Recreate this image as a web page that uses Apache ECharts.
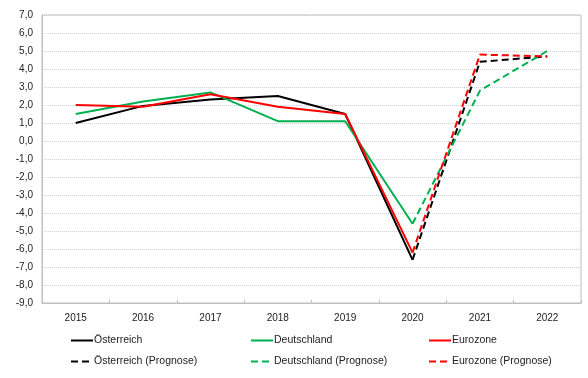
<!DOCTYPE html>
<html><head><meta charset="utf-8">
<script src="https://cdn.jsdelivr.net/npm/echarts@6/dist/echarts.min.js"></script>
<style>html,body{margin:0;padding:0;background:#fff}#c{width:588px;height:378px}</style>
</head><body><div id="c"></div>
<script>
const years = ['2015','2016','2017','2018','2019','2020','2021','2022'];
const oesterreich = [1.0, 1.95, 2.3, 2.5, 1.5, -6.6, null, null];
const deutschland = [1.5, 2.2, 2.7, 1.1, 1.1, -4.6, null, null];
const eurozone = [2.0, 1.9, 2.6, 1.9, 1.5, -6.2, null, null];
const oesterreichP = [null, null, null, null, null, -6.6, 4.4, 4.7];
const deutschlandP = [null, null, null, null, null, -4.6, 2.8, 5.0];
const eurozoneP = [null, null, null, null, null, -6.2, 4.8, 4.7];

const BLACK = '#000000', GREEN = '#00b050', RED = '#ff0000';
const dash = [7, 4];
function s(name, data, color, dashed) {
  return {
    name, type: 'line', data, symbol: 'none', connectNulls: false,
    lineStyle: { color, width: 2, type: dashed ? dash : 'solid' },
    itemStyle: { color }, emphasis: { disabled: true }, animation: false
  };
}
const font = 'Liberation Sans';
const legendBase = {
  orient: 'vertical', top: 330, itemWidth: 22, itemHeight: 10, itemGap: 10,
  itemStyle: { opacity: 0 },
  textStyle: { fontFamily: font, fontSize: 10.5, color: '#222', padding: [0, 0, 0, -4] },
  selectedMode: false
};
const chart = echarts.init(document.getElementById('c'), null, { renderer: 'canvas' });
chart.setOption({
  animation: false,
  grid: { left: 42, right: 7, top: 15, bottom: 75, show: true, borderColor: '#bfbfbf', borderWidth: 1 },
  xAxis: {
    type: 'category', data: years, boundaryGap: true,
    axisLine: { onZero: false, lineStyle: { color: '#bfbfbf' } },
    axisTick: { show: true, inside: true, length: 3, lineStyle: { color: '#bfbfbf' } },
    axisLabel: { fontFamily: font, fontSize: 10, color: '#222', margin: 10 }
  },
  yAxis: {
    type: 'value', min: -9, max: 7, interval: 1,
    axisLine: { show: true, lineStyle: { color: '#bfbfbf' } },
    axisTick: { show: false },
    splitLine: { lineStyle: { color: '#d0d0dc', type: 'dotted', width: 1 } },
    axisLabel: { fontFamily: font, fontSize: 10, color: '#222', margin: 9,
      formatter: v => v.toFixed(1).replace('.', ',') }
  },
  legend: [
    Object.assign({}, legendBase, { left: 65, data: ['Österreich', 'Österreich (Prognose)'] }),
    Object.assign({}, legendBase, { left: 245, data: ['Deutschland', 'Deutschland (Prognose)'] }),
    Object.assign({}, legendBase, { left: 423, data: ['Eurozone', 'Eurozone (Prognose)'] })
  ],
  series: [
    s('Österreich', oesterreich, BLACK, false),
    s('Deutschland', deutschland, GREEN, false),
    s('Eurozone', eurozone, RED, false),
    s('Österreich (Prognose)', oesterreichP, BLACK, true),
    s('Deutschland (Prognose)', deutschlandP, GREEN, true),
    s('Eurozone (Prognose)', eurozoneP, RED, true)
  ]
});
</script></body></html>
